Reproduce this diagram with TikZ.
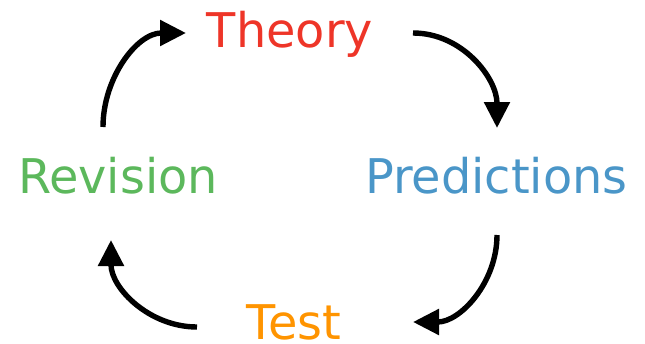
\documentclass[tikz,border=0pt]{standalone}
\usepackage{fontspec}
\setmainfont{DejaVu Sans}
\usetikzlibrary{arrows.meta}
\definecolor{theoryred}{RGB}{238,53,40}
\definecolor{predblue}{RGB}{74,150,200}
\definecolor{revgreen}{RGB}{92,184,92}
\definecolor{testorange}{RGB}{255,148,0}
\begin{document}
\begin{tikzpicture}[x=1pt,y=-1pt,
  label/.style={inner sep=0pt,anchor=base,font=\fontsize{47.8}{56}\selectfont},
  cyclearrow/.style={draw=black,line width=5.4pt,
    -{Triangle[length=26pt,width=25pt]}}]
  \useasboundingbox (0,0) rectangle (645,343);

  % the four stages
  \node[label,text=theoryred]  (theory)  at (290,47)   {Theory};
  \node[label,text=predblue]   (pred)    at (496.5,193) {Predictions};
  \node[label,text=testorange] (test)    at (294,339.5) {Test};
  \node[label,text=revgreen]   (rev)     at (118,193)  {Revision};

  % connector ends
  \coordinate (r2t-s) at (103,127);
  \coordinate (r2t-e) at (186,33);
  \coordinate (t2p-s) at (413,33);
  \coordinate (t2p-e) at (497,128);
  \coordinate (p2x-s) at (497,235);
  \coordinate (p2x-e) at (413,322);
  \coordinate (x2r-s) at (197,327);
  \coordinate (x2r-e) at (111,240);

  % the cycle
  \draw[cyclearrow] (r2t-s) to[out=90,in=180] (r2t-e);
  \draw[cyclearrow] (t2p-s) to[out=0,in=90] (t2p-e);
  \draw[cyclearrow] (p2x-s) to[out=-90,in=0] (p2x-e);
  \draw[cyclearrow] (x2r-s) to[out=180,in=-90] (x2r-e);
\end{tikzpicture}
\end{document}
